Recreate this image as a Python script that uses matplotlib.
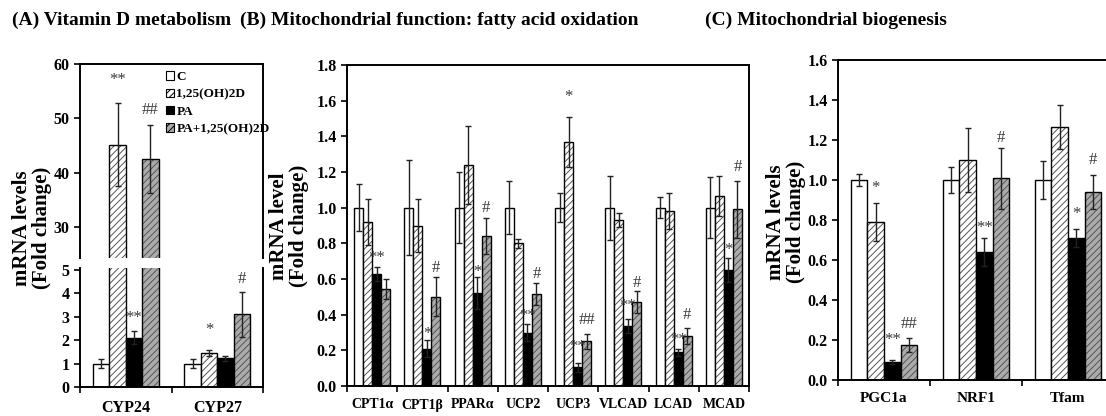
import numpy as np
import matplotlib
matplotlib.use('Agg')
import matplotlib.pyplot as plt
from matplotlib.patches import Patch

plt.rcParams['font.family'] = ['Liberation Serif', 'DejaVu Serif']
plt.rcParams['font.weight'] = 'bold'
plt.rcParams['hatch.linewidth'] = 0.7

groups = ['C', '1,25(OH)2D', 'PA', 'PA+1,25(OH)2D']

# (A) Vitamin D metabolism
genes_a = ['CYP24', 'CYP27']
a_mean = {'C': [1.0, 1.0], '1,25(OH)2D': [45.2, 1.45], 'PA': [2.1, 1.22], 'PA+1,25(OH)2D': [42.6, 3.1]}
a_err = {'C': [0.2, 0.2], '1,25(OH)2D': [7.6, 0.13], 'PA': [0.28, 0.1], 'PA+1,25(OH)2D': [6.2, 0.95]}

# (B) fatty acid oxidation
genes_b = ['CPT1α', 'CPT1β', 'PPARα', 'UCP2', 'UCP3', 'VLCAD', 'LCAD', 'MCAD']
b_mean = {'C': [1.0, 1.0, 1.0, 1.0, 1.0, 1.0, 1.0, 1.0],
          '1,25(OH)2D': [0.92, 0.9, 1.24, 0.80, 1.37, 0.93, 0.98, 1.065],
          'PA': [0.63, 0.21, 0.52, 0.30, 0.105, 0.335, 0.19, 0.65],
          'PA+1,25(OH)2D': [0.545, 0.50, 0.84, 0.515, 0.25, 0.47, 0.28, 0.99]}
b_err = {'C': [0.13, 0.265, 0.2, 0.15, 0.08, 0.18, 0.06, 0.17],
         '1,25(OH)2D': [0.13, 0.15, 0.22, 0.025, 0.14, 0.04, 0.1, 0.11],
         'PA': [0.04, 0.05, 0.09, 0.05, 0.025, 0.04, 0.02, 0.065],
         'PA+1,25(OH)2D': [0.055, 0.11, 0.1, 0.06, 0.04, 0.06, 0.045, 0.16]}

# (C) Mitochondrial biogenesis
genes_c = ['PGC1a', 'NRF1', 'Tfam']
c_mean = {'C': [1.0, 1.0, 1.0], '1,25(OH)2D': [0.79, 1.10, 1.265],
          'PA': [0.092, 0.64, 0.71], 'PA+1,25(OH)2D': [0.176, 1.008, 0.94]}
c_err = {'C': [0.03, 0.064, 0.096], '1,25(OH)2D': [0.095, 0.16, 0.11],
         'PA': [0.01, 0.07, 0.045], 'PA+1,25(OH)2D': [0.036, 0.153, 0.085]}

# significance marks: (gene index, group index, label, y)
a_marks_top = [(0, 1, '**', 57), (0, 3, '##', 51.5)]
a_marks_low = [(0, 2, '**', 2.95), (1, 1, '*', 2.45), (1, 3, '#', 4.6)]
b_marks = [(0, 2, '**', 0.72), (1, 2, '*', 0.29), (1, 3, '#', 0.66), (2, 2, '*', 0.64),
           (2, 3, '#', 1.0), (3, 2, '**', 0.39), (3, 3, '#', 0.63), (4, 1, '*', 1.62),
           (4, 2, '**', 0.22), (4, 3, '##', 0.37), (5, 2, '**', 0.45), (5, 3, '#', 0.58),
           (6, 2, '**', 0.26), (6, 3, '#', 0.40), (7, 2, '*', 0.76), (7, 3, '#', 1.23)]
c_marks = [(0, 1, '*', 0.96), (0, 2, '**', 0.20), (0, 3, '##', 0.28), (1, 2, '**', 0.76),
           (1, 3, '#', 1.21), (2, 2, '*', 0.83), (2, 3, '#', 1.10)]

face = {'C': 'white', '1,25(OH)2D': 'white', 'PA': 'black', 'PA+1,25(OH)2D': '#ababab'}
hatch = {'C': None, '1,25(OH)2D': '/////', 'PA': None, 'PA+1,25(OH)2D': '/////'}
W, H = 1106, 416
BW = 0.18


def rect(x0, x1, y0, y1):
    return [x0 / W, 1 - y1 / H, (x1 - x0) / W, (y1 - y0) / H]


def draw_bars(ax, genes, mean, err):
    x = np.arange(len(genes))
    for k, g in enumerate(groups):
        xs = x + (k - 1.5) * BW
        if hatch[g]:
            ax.bar(xs, mean[g], BW, color=face[g], hatch=hatch[g], edgecolor='#555555', lw=0)
            ax.bar(xs, mean[g], BW, fill=False, edgecolor='black', lw=1.0)
        else:
            ax.bar(xs, mean[g], BW, color=face[g], edgecolor='black', lw=1.0)
        ax.errorbar(xs, mean[g], yerr=err[g], fmt='none', ecolor='#222222',
                    elinewidth=1.0, capsize=2.5, capthick=1.0)


def style_axes(ax, n, fs_cat, cats=None):
    ax.set_xlim(-0.5, n - 0.5)
    ax.set_xticks(np.arange(n + 1) - 0.5)
    ax.set_xticklabels([])
    ax.tick_params(axis='x', which='major', direction='out', length=4, width=1.2)
    if cats is not None:
        ax.set_xticks(np.arange(n), minor=True)
        ax.set_xticklabels(cats, minor=True, fontsize=fs_cat, fontweight='bold')
        ax.tick_params(axis='x', which='minor', length=0, pad=9)
    ax.tick_params(axis='y', direction='out', length=4, width=1.2, labelsize=11.5)
    for s in ax.spines.values():
        s.set_linewidth(1.4)


def add_marks(ax, marks, fs=12):
    for gi, k, lab, y in marks:
        ax.text(gi + (k - 1.5) * BW, y, lab, ha='center', va='center',
                fontsize=fs, color='#3a3a3a', fontweight='normal')


fig = plt.figure(figsize=(W / 100, H / 100), dpi=100)

# Panel A (broken axis)
ax_at = fig.add_axes(rect(80, 263, 64, 258))
ax_al = fig.add_axes(rect(80, 263, 268, 387))
for ax in (ax_at, ax_al):
    draw_bars(ax, genes_a, a_mean, a_err)
ax_at.set_ylim(24.4, 60)
ax_at.set_yticks([30, 40, 50, 60])
ax_al.set_ylim(0, 5.08)
ax_al.set_yticks([0, 1, 2, 3, 4, 5])
style_axes(ax_at, 2, 11)
style_axes(ax_al, 2, 11.5, genes_a)
ax_at.spines['bottom'].set_visible(False)
ax_at.tick_params(axis='x', which='both', bottom=False)
ax_al.spines['top'].set_visible(False)
add_marks(ax_at, a_marks_top)
add_marks(ax_al, a_marks_low)

handles = [Patch(facecolor=face[g], edgecolor='black', hatch=hatch[g], lw=0.8) for g in groups]
leg = ax_at.legend(handles, groups, loc='upper left', bbox_to_anchor=(0.44, 0.99), frameon=False,
                   handlelength=0.6, handleheight=0.6, handletextpad=0.2,
                   labelspacing=0.4, borderaxespad=0, prop={'weight': 'bold', 'size': 9.5})

# Panel B
ax_b = fig.add_axes(rect(347, 749, 65, 386))
draw_bars(ax_b, genes_b, b_mean, b_err)
ax_b.set_ylim(0, 1.8)
ax_b.set_yticks(np.arange(0, 1.81, 0.2))
ax_b.yaxis.set_major_formatter('{x:.1f}')
style_axes(ax_b, 8, 10, genes_b)
add_marks(ax_b, b_marks)

# Panel C
ax_c = fig.add_axes(rect(838, 1114, 60, 380))
draw_bars(ax_c, genes_c, c_mean, c_err)
ax_c.set_ylim(0, 1.6)
ax_c.set_yticks(np.arange(0, 1.61, 0.2))
ax_c.yaxis.set_major_formatter('{x:.1f}')
style_axes(ax_c, 3, 11, genes_c)
add_marks(ax_c, c_marks)

# y labels
ylab_kw = dict(rotation=90, ha='center', va='center', fontsize=15, fontweight='bold', linespacing=0.95)
fig.text(32 / W, 1 - 228 / H, 'mRNA levels\n(Fold change)', **ylab_kw)
fig.text(289 / W, 1 - 226 / H, 'mRNA level\n(Fold change)', **ylab_kw)
fig.text(786 / W, 1 - 222 / H, 'mRNA levels\n(Fold change)', **ylab_kw)

# panel titles
title_kw = dict(ha='left', va='center', fontsize=14, fontweight='bold')
fig.text(12 / W, 1 - 20 / H, '(A) Vitamin D metabolism', **title_kw)
fig.text(240 / W, 1 - 20 / H, '(B) Mitochondrial function: fatty acid oxidation', **title_kw)
fig.text(705 / W, 1 - 20 / H, '(C) Mitochondrial biogenesis', **title_kw)

fig.savefig('out.png', dpi=100)
